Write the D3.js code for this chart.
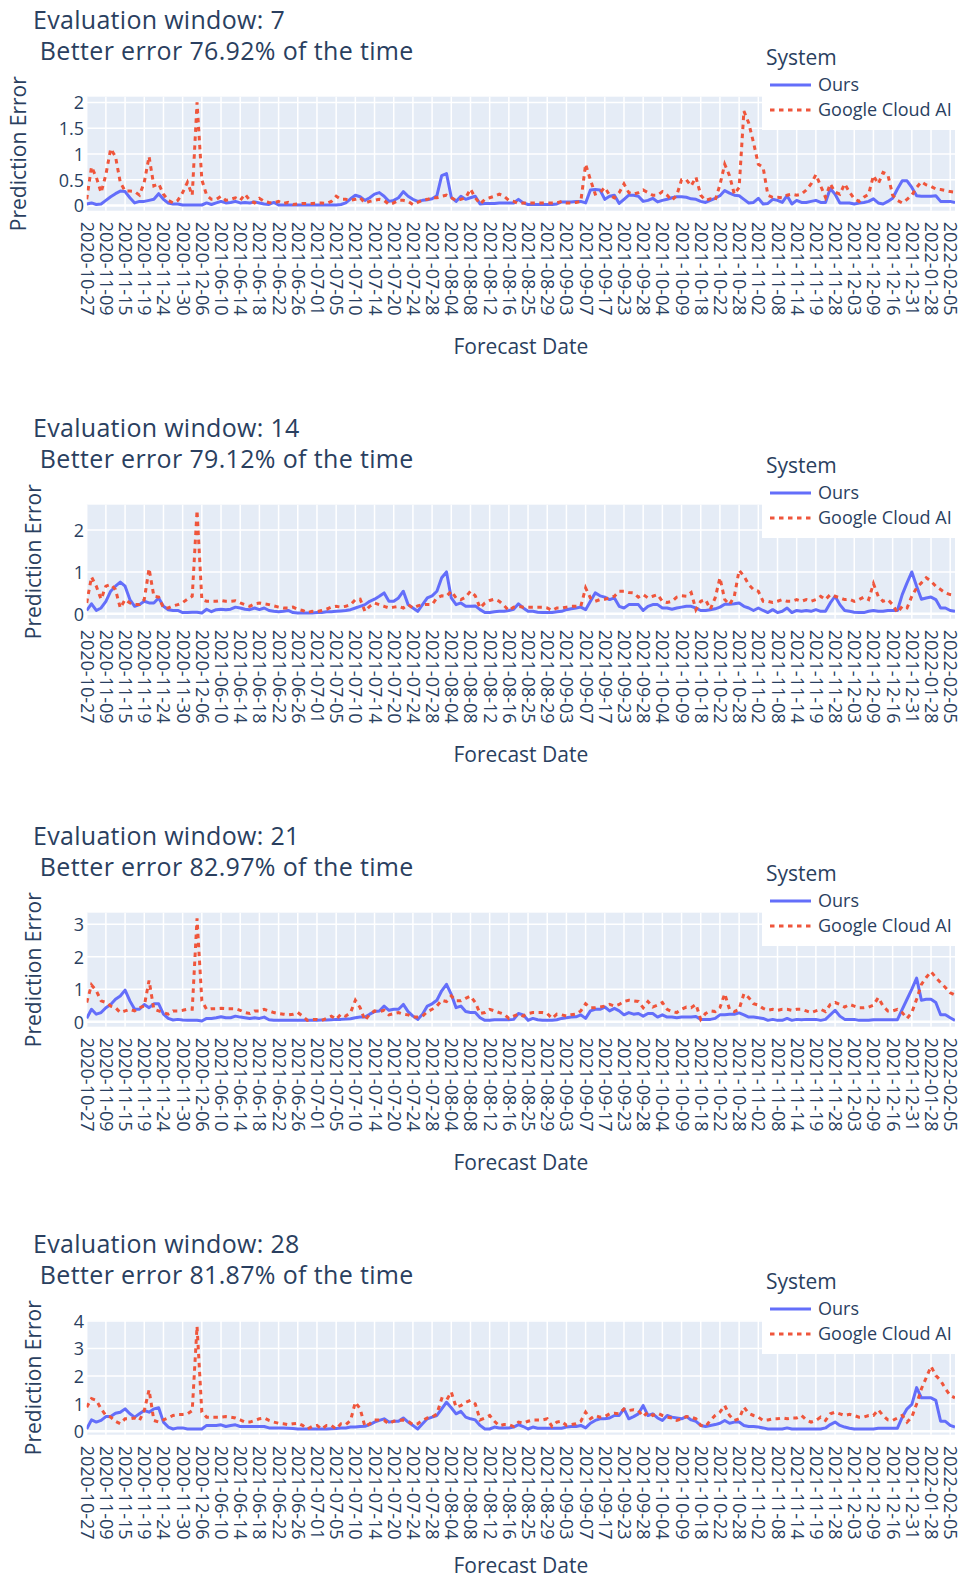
<!DOCTYPE html>
<html>
<head>
<meta charset="utf-8">
<script src="https://cdn.jsdelivr.net/npm/d3@7"></script>
<style>
  html, body { margin: 0; padding: 0; background: #fff; }
  svg { display: block; font-family: "Open Sans", "DejaVu Sans", sans-serif; }
</style>
</head>
<body>
<svg id="chart" width="962" height="1580"></svg>
<script>
// Tick labels shown on the category axis (one every 4 forecast dates)
const tickLabels = [
  "2020-10-27","2020-11-09","2020-11-15","2020-11-19","2020-11-24","2020-11-30","2020-12-06",
  "2021-06-10","2021-06-14","2021-06-18","2021-06-22","2021-06-26","2021-07-01","2021-07-05",
  "2021-07-10","2021-07-14","2021-07-20","2021-07-24","2021-07-28","2021-08-04","2021-08-08",
  "2021-08-12","2021-08-16","2021-08-25","2021-08-29","2021-09-03","2021-09-07","2021-09-17",
  "2021-09-23","2021-09-28","2021-10-04","2021-10-09","2021-10-18","2021-10-22","2021-10-28",
  "2021-11-02","2021-11-08","2021-11-14","2021-11-19","2021-11-28","2021-12-03","2021-12-09",
  "2021-12-16","2021-12-31","2022-01-28","2022-02-05"
];
const tickEvery = 4;

const windows = [7, 14, 21, 28];
const betterPct = ["76.92", "79.12", "82.97", "81.87"];
const seriesNames = ["Ours", "Google Cloud AI"];

// Prediction error per forecast date, evaluation window 7
const ours7 = [
  0.03,0.05,0.02,0.03,0.1,0.17,0.23,0.28,0.27,0.15,
  0.05,0.08,0.08,0.1,0.12,0.23,0.12,0.05,0.03,0.03,
  0.01,0.01,0.01,0.01,0.01,0.05,0.02,0.05,0.08,0.05,
  0.06,0.08,0.05,0.06,0.05,0.07,0.05,0.03,0.02,0.06,
  0.01,0.01,0.01,0.01,0.01,0.01,0.01,0.01,0.01,0.01,
  0.01,0.01,0.01,0.02,0.05,0.13,0.2,0.17,0.1,0.15,
  0.22,0.25,0.18,0.08,0.1,0.15,0.27,0.18,0.12,0.08,
  0.1,0.11,0.13,0.19,0.58,0.62,0.16,0.08,0.18,0.12,
  0.15,0.18,0.03,0.04,0.04,0.04,0.05,0.05,0.05,0.05,
  0.12,0.05,0.02,0.02,0.02,0.02,0.02,0.02,0.03,0.07,
  0.07,0.07,0.08,0.08,0.05,0.3,0.31,0.3,0.12,0.18,
  0.2,0.04,0.12,0.2,0.2,0.18,0.08,0.1,0.14,0.07,
  0.1,0.12,0.15,0.17,0.17,0.16,0.13,0.12,0.08,0.06,
  0.1,0.14,0.19,0.29,0.24,0.2,0.19,0.12,0.05,0.06,
  0.14,0.03,0.04,0.12,0.1,0.06,0.19,0.03,0.1,0.06,
  0.06,0.08,0.1,0.06,0.06,0.33,0.22,0.05,0.05,0.05,
  0.03,0.05,0.06,0.08,0.13,0.05,0.03,0.08,0.14,0.32,
  0.48,0.48,0.35,0.19,0.18,0.18,0.18,0.19,0.08,0.08,
  0.08,0.06
];
const google7 = [
  0.12,0.75,0.55,0.25,0.6,1.1,0.95,0.45,0.28,0.28,
  0.27,0.2,0.45,0.95,0.38,0.42,0.22,0.1,0.05,0.1,
  0.25,0.45,0.2,2.0,0.5,0.2,0.12,0.12,0.18,0.1,
  0.12,0.15,0.1,0.22,0.1,0.05,0.14,0.08,0.06,0.05,
  0.08,0.04,0.06,0.02,0.03,0.04,0.04,0.04,0.05,0.05,
  0.04,0.08,0.18,0.12,0.12,0.1,0.12,0.15,0.05,0.08,
  0.1,0.12,0.1,0.02,0.05,0.1,0.1,0.08,0.02,0.06,
  0.1,0.12,0.15,0.15,0.18,0.2,0.15,0.1,0.12,0.15,
  0.32,0.15,0.03,0.12,0.15,0.18,0.22,0.18,0.1,0.08,
  0.04,0.05,0.05,0.05,0.05,0.05,0.05,0.05,0.05,0.08,
  0.05,0.05,0.06,0.08,0.8,0.5,0.22,0.25,0.35,0.2,
  0.15,0.25,0.42,0.25,0.22,0.25,0.3,0.25,0.2,0.2,
  0.27,0.2,0.1,0.2,0.5,0.5,0.38,0.55,0.2,0.1,
  0.13,0.1,0.4,0.8,0.58,0.22,0.35,1.83,1.6,1.22,
  0.8,0.74,0.2,0.16,0.16,0.15,0.2,0.22,0.2,0.22,
  0.3,0.42,0.6,0.38,0.16,0.42,0.26,0.22,0.42,0.26,
  0.13,0.08,0.16,0.22,0.58,0.42,0.64,0.6,0.2,0.1,
  0.05,0.12,0.2,0.35,0.46,0.4,0.37,0.32,0.31,0.29,
  0.27,0.26
];

// Evaluation window 14
const ours14 = [
  0.08,0.24,0.08,0.14,0.3,0.54,0.66,0.76,0.66,0.34,
  0.18,0.22,0.3,0.26,0.26,0.38,0.18,0.1,0.08,0.08,
  0.03,0.03,0.04,0.04,0.02,0.11,0.05,0.1,0.11,0.1,
  0.11,0.16,0.14,0.11,0.1,0.14,0.1,0.14,0.08,0.06,
  0.05,0.06,0.08,0.03,0.02,0.02,0.02,0.02,0.03,0.03,
  0.05,0.05,0.06,0.07,0.08,0.1,0.14,0.18,0.22,0.3,
  0.35,0.42,0.5,0.3,0.3,0.38,0.54,0.22,0.14,0.06,
  0.22,0.38,0.43,0.54,0.86,1.0,0.38,0.22,0.26,0.18,
  0.18,0.19,0.1,0.03,0.03,0.05,0.06,0.06,0.08,0.11,
  0.24,0.14,0.06,0.06,0.04,0.03,0.03,0.03,0.05,0.06,
  0.1,0.12,0.14,0.16,0.1,0.3,0.5,0.43,0.4,0.34,
  0.38,0.18,0.14,0.22,0.22,0.22,0.08,0.18,0.22,0.22,
  0.14,0.14,0.11,0.14,0.16,0.18,0.18,0.14,0.08,0.08,
  0.1,0.12,0.16,0.23,0.23,0.24,0.26,0.18,0.14,0.08,
  0.14,0.08,0.03,0.1,0.03,0.06,0.14,0.03,0.08,0.06,
  0.08,0.06,0.1,0.06,0.06,0.26,0.42,0.22,0.08,0.06,
  0.04,0.03,0.03,0.06,0.08,0.06,0.06,0.08,0.08,0.08,
  0.46,0.74,1.0,0.66,0.35,0.38,0.4,0.34,0.14,0.14,
  0.08,0.06
];
const google14 = [
  0.26,0.88,0.66,0.35,0.66,0.7,0.58,0.14,0.34,0.26,
  0.22,0.22,0.34,1.08,0.42,0.4,0.14,0.14,0.19,0.22,
  0.27,0.35,0.42,2.47,0.34,0.3,0.3,0.3,0.32,0.3,
  0.3,0.31,0.26,0.22,0.18,0.24,0.26,0.24,0.22,0.19,
  0.16,0.14,0.14,0.16,0.11,0.08,0.03,0.06,0.05,0.08,
  0.11,0.16,0.18,0.16,0.18,0.22,0.34,0.35,0.06,0.18,
  0.26,0.22,0.18,0.14,0.16,0.18,0.14,0.22,0.14,0.19,
  0.22,0.22,0.22,0.38,0.43,0.42,0.54,0.38,0.34,0.4,
  0.54,0.43,0.14,0.26,0.32,0.35,0.3,0.2,0.08,0.16,
  0.18,0.16,0.16,0.16,0.16,0.16,0.14,0.08,0.14,0.14,
  0.16,0.18,0.18,0.18,0.62,0.38,0.3,0.34,0.35,0.38,
  0.42,0.54,0.54,0.51,0.5,0.4,0.46,0.38,0.42,0.46,
  0.3,0.27,0.3,0.4,0.43,0.42,0.51,0.1,0.3,0.34,
  0.11,0.38,0.86,0.34,0.22,0.42,1.04,0.9,0.7,0.58,
  0.54,0.3,0.3,0.27,0.3,0.34,0.3,0.3,0.34,0.3,
  0.34,0.3,0.34,0.42,0.34,0.46,0.42,0.38,0.34,0.35,
  0.3,0.34,0.4,0.34,0.72,0.42,0.3,0.34,0.22,0.03,
  0.18,0.14,0.42,0.62,0.74,0.86,0.78,0.66,0.58,0.5,
  0.46,0.44
];

// Evaluation window 21
const ours21 = [
  0.1,0.38,0.23,0.28,0.43,0.53,0.69,0.79,0.97,0.64,
  0.38,0.38,0.53,0.43,0.55,0.55,0.23,0.1,0.05,0.07,
  0.05,0.04,0.04,0.04,0.02,0.1,0.1,0.12,0.15,0.12,
  0.12,0.17,0.14,0.12,0.1,0.12,0.1,0.14,0.06,0.04,
  0.04,0.04,0.04,0.04,0.04,0.04,0.04,0.04,0.04,0.05,
  0.05,0.06,0.07,0.07,0.08,0.09,0.12,0.14,0.14,0.23,
  0.31,0.33,0.48,0.35,0.38,0.38,0.53,0.31,0.17,0.07,
  0.23,0.48,0.55,0.66,0.95,1.15,0.84,0.43,0.48,0.31,
  0.28,0.28,0.12,0.04,0.04,0.06,0.06,0.06,0.06,0.07,
  0.25,0.21,0.04,0.1,0.06,0.04,0.04,0.04,0.06,0.1,
  0.12,0.14,0.15,0.21,0.1,0.33,0.38,0.38,0.45,0.33,
  0.41,0.33,0.21,0.28,0.23,0.25,0.17,0.25,0.25,0.14,
  0.21,0.14,0.14,0.12,0.14,0.14,0.14,0.16,0.07,0.07,
  0.07,0.1,0.21,0.21,0.23,0.23,0.27,0.21,0.14,0.14,
  0.12,0.1,0.04,0.07,0.04,0.04,0.1,0.04,0.07,0.06,
  0.07,0.07,0.07,0.04,0.07,0.21,0.35,0.17,0.07,0.07,
  0.07,0.04,0.04,0.04,0.06,0.06,0.06,0.06,0.06,0.06,
  0.38,0.69,1.0,1.34,0.66,0.69,0.69,0.59,0.21,0.21,
  0.12,0.04
];
const google21 = [
  0.59,1.13,0.95,0.64,0.59,0.48,0.43,0.28,0.33,0.38,
  0.33,0.43,0.48,1.27,0.38,0.33,0.28,0.23,0.33,0.33,
  0.35,0.38,0.38,3.18,0.64,0.38,0.4,0.4,0.41,0.4,
  0.4,0.4,0.35,0.28,0.25,0.33,0.33,0.38,0.33,0.28,
  0.25,0.23,0.21,0.23,0.28,0.17,0.04,0.07,0.07,0.04,
  0.1,0.17,0.07,0.23,0.17,0.28,0.66,0.43,0.04,0.23,
  0.33,0.31,0.35,0.21,0.25,0.28,0.23,0.21,0.14,0.14,
  0.17,0.31,0.38,0.48,0.66,0.62,0.79,0.64,0.64,0.72,
  0.79,0.59,0.25,0.28,0.38,0.33,0.28,0.23,0.1,0.17,
  0.23,0.17,0.25,0.28,0.28,0.28,0.25,0.1,0.23,0.21,
  0.17,0.21,0.23,0.33,0.55,0.43,0.43,0.45,0.48,0.53,
  0.48,0.53,0.62,0.66,0.64,0.62,0.43,0.62,0.45,0.51,
  0.59,0.38,0.31,0.28,0.38,0.45,0.43,0.53,0.07,0.25,
  0.33,0.31,0.43,0.86,0.38,0.31,0.38,0.86,0.74,0.55,
  0.51,0.41,0.35,0.38,0.35,0.38,0.38,0.35,0.38,0.38,
  0.33,0.28,0.33,0.38,0.31,0.53,0.59,0.53,0.45,0.53,
  0.48,0.43,0.43,0.45,0.51,0.74,0.48,0.33,0.33,0.38,
  0.28,0.1,0.28,0.69,1.15,1.36,1.54,1.36,1.2,1.05,
  0.89,0.82
];

// Evaluation window 28
const ours28 = [
  0.08,0.41,0.33,0.39,0.53,0.53,0.65,0.69,0.81,0.63,
  0.51,0.63,0.75,0.69,0.81,0.85,0.33,0.15,0.08,0.12,
  0.12,0.08,0.08,0.08,0.08,0.21,0.21,0.21,0.23,0.17,
  0.21,0.23,0.17,0.17,0.17,0.17,0.17,0.17,0.12,0.12,
  0.12,0.12,0.11,0.1,0.08,0.08,0.08,0.08,0.08,0.08,
  0.08,0.09,0.1,0.12,0.12,0.15,0.15,0.17,0.18,0.24,
  0.33,0.39,0.45,0.33,0.36,0.36,0.48,0.33,0.21,0.08,
  0.27,0.45,0.51,0.57,0.81,1.05,0.85,0.63,0.72,0.51,
  0.45,0.41,0.21,0.08,0.08,0.15,0.12,0.12,0.12,0.15,
  0.24,0.17,0.08,0.15,0.11,0.11,0.11,0.11,0.11,0.11,
  0.15,0.17,0.17,0.21,0.12,0.29,0.39,0.45,0.45,0.48,
  0.57,0.57,0.81,0.45,0.53,0.63,0.93,0.57,0.63,0.48,
  0.39,0.57,0.51,0.48,0.45,0.53,0.41,0.36,0.21,0.17,
  0.21,0.24,0.29,0.39,0.29,0.33,0.33,0.21,0.17,0.17,
  0.15,0.12,0.08,0.08,0.08,0.08,0.12,0.08,0.08,0.08,
  0.08,0.08,0.08,0.08,0.12,0.24,0.33,0.21,0.15,0.11,
  0.08,0.08,0.08,0.08,0.08,0.11,0.11,0.11,0.11,0.11,
  0.51,0.81,0.97,1.58,1.21,1.21,1.21,1.12,0.36,0.36,
  0.21,0.15
];
const google28 = [
  0.87,1.18,1.12,0.81,0.57,0.51,0.36,0.27,0.45,0.45,
  0.48,0.39,0.75,1.5,0.39,0.33,0.41,0.48,0.57,0.61,
  0.61,0.63,0.75,3.8,0.69,0.51,0.51,0.51,0.51,0.53,
  0.51,0.48,0.41,0.33,0.33,0.39,0.45,0.48,0.39,0.33,
  0.29,0.27,0.24,0.27,0.29,0.21,0.08,0.17,0.21,0.08,
  0.21,0.21,0.08,0.27,0.24,0.39,1.05,0.81,0.17,0.27,
  0.41,0.41,0.39,0.27,0.36,0.39,0.41,0.36,0.24,0.27,
  0.39,0.48,0.51,0.63,1.18,1.12,1.42,0.87,0.93,1.05,
  1.12,0.99,0.41,0.48,0.57,0.36,0.2,0.24,0.24,0.17,
  0.33,0.29,0.36,0.41,0.41,0.41,0.45,0.17,0.33,0.36,
  0.21,0.24,0.27,0.36,0.69,0.45,0.57,0.51,0.53,0.63,
  0.65,0.63,0.81,0.75,0.78,0.75,0.53,0.69,0.57,0.65,
  0.57,0.51,0.48,0.39,0.45,0.53,0.51,0.45,0.21,0.17,
  0.39,0.57,0.69,0.93,0.57,0.39,0.45,0.87,0.65,0.57,
  0.51,0.39,0.41,0.45,0.45,0.48,0.45,0.48,0.48,0.57,
  0.41,0.33,0.39,0.51,0.39,0.63,0.69,0.63,0.57,0.61,
  0.57,0.51,0.51,0.57,0.57,0.78,0.57,0.41,0.39,0.48,
  0.57,0.33,0.51,0.99,1.54,1.94,2.35,2.02,1.84,1.54,
  1.3,1.21
];

// Y-axis tick values per panel
const yTicks7 = [0, 0.5, 1, 1.5, 2];
const yTicks14 = [0, 1, 2];
const yTicks21 = [0, 1, 2, 3];
const yTicks28 = [0, 1, 2, 3, 4];

const panels = [
  { ours: ours7,  google: google7,  yTicks: yTicks7 },
  { ours: ours14, google: google14, yTicks: yTicks14 },
  { ours: ours21, google: google21, yTicks: yTicks21 },
  { ours: ours28, google: google28, yTicks: yTicks28 }
];

// ---- layout ----
const pageH = 1580;
const panelH = 408;
const plotL = 86.7, plotR = 955, plotT = 96.7, plotB = 210.7;
const ink = "#2a3f5f";
const blue = "#636EFA", red = "#EF553B";
const fontFam = '"Open Sans", "DejaVu Sans", sans-serif';
const dotDash = "4.5,4.5";

const svg = d3.select("#chart");
const defs = svg.append("defs");
const tickIdx = tickLabels.map((_, i) => i * tickEvery);

panels.forEach((p, k) => {
  const oy = k * panelH;
  const g = svg.append("g").attr("transform", `translate(0,${oy})`);
  const n = p.ours.length;

  const x = d3.scaleLinear().domain([0, n - 1]).range([plotL, plotR]);
  const all = p.ours.concat(p.google);
  const lo = d3.min(all), hi = d3.max(all);
  const pad = (hi - lo) * 0.05 / 0.9;
  const y = d3.scaleLinear().domain([lo - pad, hi + pad]).range([plotB, plotT]);

  // title, two lines
  g.append("text").attr("x", 33).attr("y", 29)
    .attr("fill", ink).style("font-family", fontFam)
    .style("font-size", "25px").style("letter-spacing", "0.3px")
    .text(`Evaluation window: ${windows[k]}`);
  g.append("text").attr("x", 33).attr("y", 60)
    .attr("fill", ink).style("font-family", fontFam)
    .style("font-size", "25px").style("letter-spacing", "0.35px")
    .attr("xml:space", "preserve").style("white-space", "pre")
    .text(` Better error ${betterPct[k]}% of the time`);

  // plot background
  g.append("rect")
    .attr("x", plotL).attr("y", plotT)
    .attr("width", plotR - plotL).attr("height", plotB - plotT)
    .attr("fill", "#E5ECF6");

  // vertical grid at labelled categories
  g.append("g").selectAll("line").data(tickIdx).join("line")
    .attr("x1", d => x(d)).attr("x2", d => x(d))
    .attr("y1", plotT).attr("y2", plotB)
    .attr("stroke", "#fff").attr("stroke-width", 1.5);

  // horizontal grid
  g.append("g").selectAll("line").data(p.yTicks).join("line")
    .attr("x1", plotL).attr("x2", plotR)
    .attr("y1", d => y(d)).attr("y2", d => y(d))
    .attr("stroke", "#fff").attr("stroke-width", d => d === 0 ? 2.5 : 1.5);

  // traces, clipped to the plot area
  const clipId = `clip${k}`;
  defs.append("clipPath").attr("id", clipId)
    .append("rect").attr("x", plotL).attr("y", oy + plotT - 2)
    .attr("width", plotR - plotL).attr("height", plotB - plotT + 4);

  const line = d3.line().x((d, i) => x(i)).y(d => y(d));
  const wrap = svg.append("g").attr("clip-path", `url(#${clipId})`);
  const inner = wrap.append("g").attr("transform", `translate(0,${oy})`);
  inner.append("path").datum(p.ours)
    .attr("d", line).attr("fill", "none")
    .attr("stroke", blue).attr("stroke-width", 3)
    .attr("stroke-linejoin", "round");
  inner.append("path").datum(p.google)
    .attr("d", line).attr("fill", "none")
    .attr("stroke", red).attr("stroke-width", 3)
    .attr("stroke-dasharray", dotDash);

  // x axis labels
  const xAxis = g.append("g").attr("transform", `translate(0,${plotB})`)
    .call(d3.axisBottom(x).tickValues(tickIdx)
      .tickFormat(i => tickLabels[i / tickEvery]).tickSize(0));
  xAxis.select(".domain").remove();
  xAxis.attr("font-size", null).attr("font-family", null);
  xAxis.selectAll("text")
    .attr("transform", "rotate(90)")
    .attr("x", 11).attr("y", 0).attr("dy", "0.36em")
    .attr("text-anchor", "start")
    .attr("fill", ink)
    .style("font-family", fontFam).style("font-size", "18px");

  // y axis labels
  const yAxis = g.append("g").attr("transform", `translate(${plotL},0)`)
    .call(d3.axisLeft(y).tickValues(p.yTicks).tickFormat(d3.format("~g"))
      .tickSize(0).tickPadding(2.7));
  yAxis.select(".domain").remove();
  yAxis.attr("font-size", null).attr("font-family", null);
  yAxis.selectAll("text")
    .attr("fill", ink).attr("dy", "0.36em")
    .style("font-family", fontFam).style("font-size", "18px");
  let maxW = 0;
  yAxis.selectAll("text").each(function () {
    maxW = Math.max(maxW, this.getComputedTextLength());
  });

  // axis titles
  const cy = (plotT + plotB) / 2;
  const tx = plotL - 2.7 - maxW - 40;
  g.append("text")
    .attr("transform", `translate(${tx},${cy}) rotate(-90)`)
    .attr("text-anchor", "middle").attr("dy", "0.36em")
    .attr("fill", ink)
    .style("font-family", fontFam).style("font-size", "21px")
    .text("Prediction Error");
  // keep the bottom panel's axis title inside the page
  const xTitleY = Math.min(354, pageH - oy - 7);
  g.append("text")
    .attr("x", (plotL + plotR) / 2).attr("y", xTitleY)
    .attr("text-anchor", "middle").attr("fill", ink)
    .style("font-family", fontFam).style("font-size", "21px")
    .text("Forecast Date");
});

// legends drawn last so they sit above the traces
panels.forEach((p, k) => {
  const lg = svg.append("g").attr("transform", `translate(0,${k * panelH})`);
  lg.append("rect").attr("x", 762).attr("y", 36).attr("width", 193).attr("height", 94)
    .attr("fill", "#fff");
  lg.append("text").attr("x", 766).attr("y", 65).attr("fill", ink)
    .style("font-family", fontFam).style("font-size", "21px").text("System");
  const items = lg.selectAll("g.item").data(seriesNames).join("g")
    .attr("class", "item")
    .attr("transform", (d, i) => `translate(0,${85 + i * 25})`);
  items.append("line").attr("x1", 770).attr("x2", 811).attr("y1", 0).attr("y2", 0)
    .attr("stroke", (d, i) => i === 0 ? blue : red).attr("stroke-width", 3)
    .attr("stroke-dasharray", (d, i) => i === 0 ? null : dotDash);
  items.append("text").attr("x", 818).attr("y", 0).attr("dy", "0.36em")
    .attr("fill", ink)
    .style("font-family", fontFam).style("font-size", "18px")
    .text(d => d);
});
</script>
</body>
</html>
